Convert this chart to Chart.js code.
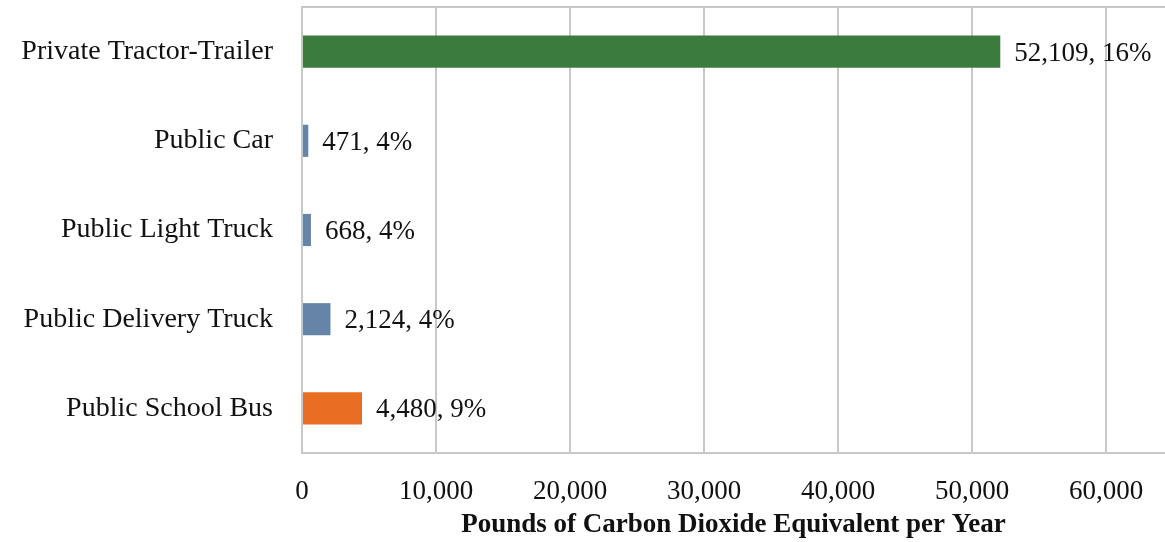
<!DOCTYPE html>
<html>
<head>
<meta charset="utf-8">
<script src="https://cdn.jsdelivr.net/npm/chart.js@4/dist/chart.umd.min.js"></script>
<style>
html,body{margin:0;padding:0;background:#fff;}
#wrap{width:1165px;height:542px;position:relative;}
</style>
</head>
<body>
<div id="wrap"><canvas id="c" width="1165" height="542"></canvas></div>
<script>
const categories = ["Private Tractor-Trailer", "Public Car", "Public Light Truck", "Public Delivery Truck", "Public School Bus"];
const values = [52109, 471, 668, 2124, 4480];
const percents = ["16%", "4%", "4%", "4%", "9%"];
const barColors = ["#3b7b3d", "#6584a6", "#6584a6", "#6584a6", "#e86f22"];
const tickValues = [0, 10000, 20000, 30000, 40000, 50000, 60000];
const axisTitle = "Pounds of Carbon Dioxide Equivalent per Year";

const FONT = "'Liberation Serif', 'Times New Roman', serif";
const GRID = "#c8c8c8";

const labelPlugin = {
  id: 'barLabels',
  afterDatasetsDraw(chart) {
    const ctx = chart.ctx;
    const meta = chart.getDatasetMeta(0);
    ctx.save();
    ctx.font = "27px " + FONT;
    ctx.fillStyle = "#111";
    ctx.textBaseline = "middle";
    ctx.textAlign = "left";
    meta.data.forEach((bar, i) => {
      const txt = values[i].toLocaleString('en-US') + ", " + percents[i];
      ctx.fillText(txt, bar.x + 14, bar.y + 2);
    });
    ctx.restore();
  }
};

const topBorder = {
  id: 'topBorder',
  afterDraw(chart) {
    const a = chart.chartArea, ctx = chart.ctx;
    ctx.save();
    ctx.strokeStyle = GRID;
    ctx.lineWidth = 2;
    ctx.beginPath();
    ctx.moveTo(a.left, a.top);
    ctx.lineTo(a.right, a.top);
    ctx.stroke();
    ctx.restore();
  }
};

new Chart(document.getElementById('c'), {
  type: 'bar',
  data: {
    labels: categories,
    datasets: [{
      data: values,
      backgroundColor: barColors,
      barPercentage: 0.45,
      categoryPercentage: 0.8
    }]
  },
  options: {
    indexAxis: 'y',
    responsive: false,
    animation: false,
    layout: { padding: { top: 7, right: 0, left: 0, bottom: 0 } },
    plugins: { legend: { display: false }, tooltip: { enabled: false } },
    scales: {
      x: {
        min: 0,
        max: 64400,
        afterBuildTicks(scale) {
          scale.ticks = tickValues.map(v => ({ value: v }));
        },
        afterFit(scale) {
          scale.height = 89;
          scale.paddingLeft = 0;
          scale.paddingRight = 0;
        },
        grid: { color: GRID, lineWidth: 2, drawTicks: false },
        border: { color: GRID, width: 2 },
        ticks: {
          font: { family: FONT, size: 27 },
          color: "#111",
          padding: 23,
          maxRotation: 0,
          autoSkip: false,
          callback: (v) => Number(v).toLocaleString('en-US')
        },
        title: {
          display: true,
          text: axisTitle,
          font: { family: FONT, size: 27, weight: 'bold' },
          color: "#111",
          padding: { top: 0, bottom: 1 }
        }
      },
      y: {
        grid: { display: false },
        border: { color: GRID, width: 2 },
        afterFit(scale) {
          scale.width = 302;
          scale.paddingTop = 0;
          scale.paddingBottom = 0;
        },
        ticks: {
          font: { family: FONT, size: 28 },
          color: "#111",
          padding: 21
        }
      }
    }
  },
  plugins: [labelPlugin, topBorder]
});
</script>
</body>
</html>
